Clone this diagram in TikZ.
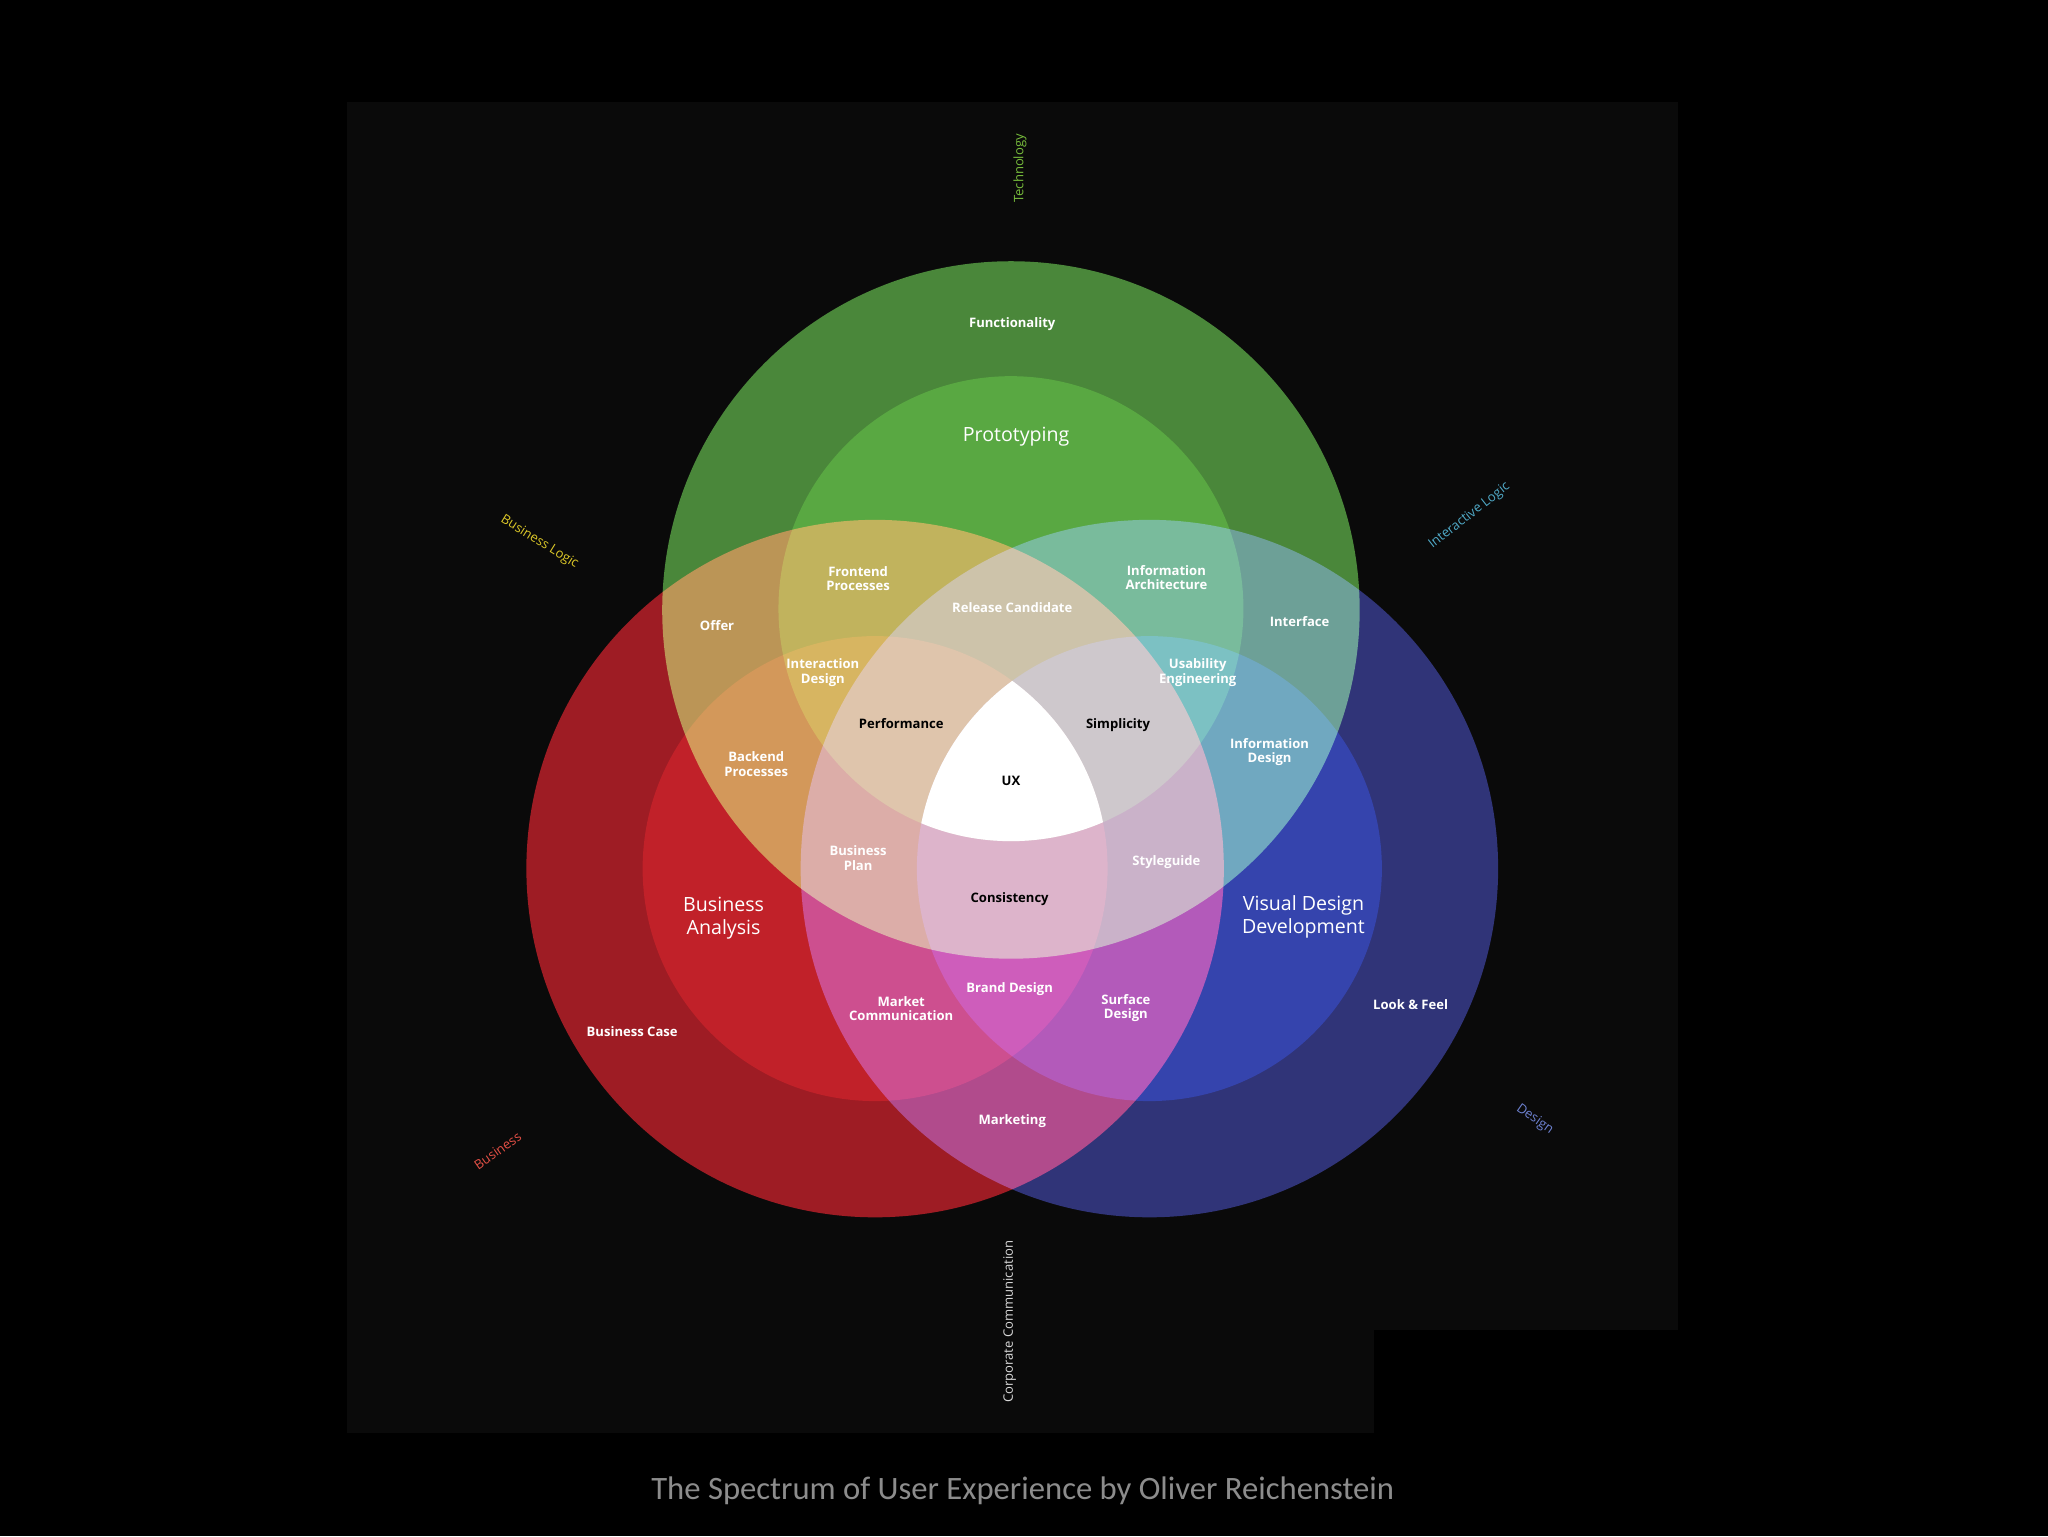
\documentclass[tikz,border=0pt]{standalone}
\usepackage{fontspec}
\setmainfont{Open Sans}
\newfontfamily\capfont{Carlito}
\begin{document}
\begin{tikzpicture}[x=1pt,y=-1pt,
 lab/.style={text=white,font=\fontsize{10}{11}\selectfont\bfseries,align=center,inner sep=0},
 dlab/.style={text=black,font=\fontsize{10}{11}\selectfont\bfseries,align=center,inner sep=0},
 big/.style={text=white,font=\fontsize{15}{18}\selectfont,align=center,inner sep=0},
 axis/.style={font=\fontsize{10}{11}\selectfont,inner sep=0}]
\useasboundingbox (0,0) rectangle (1568,1176);
\fill[black] (0,0) rectangle (1568,1176);
\fill[black!96!white] (266,78) rectangle (1285,1097);
\fill[black] (1052,1018) rectangle (1285,1097);
\begin{scope}[blend group=screen]
 \fill[fill={rgb,255:red,74;green,135;blue,58}] (774,467) circle (267);
 \fill[fill={rgb,255:red,158;green,28;blue,36}] (670,665) circle (267);
 \fill[fill={rgb,255:red,48;green,52;blue,120}] (880,665) circle (267);
 \fill[fill={rgb,255:red,20;green,70;blue,10}] (774,466) circle (178);
 \fill[fill={rgb,255:red,90;green,5;blue,5}] (670,665) circle (178);
 \fill[fill={rgb,255:red,5;green,20;blue,100}] (880,665) circle (178);
\end{scope}
\begin{scope}
 \clip (774,466) circle (178); \clip (670,665) circle (178); \fill[white] (880,665) circle (178);
\end{scope}
\node[lab] (fun) at (775,248) {Functionality};
\node[big] (pro) at (778,334) {Prototyping};
\node[lab] (fp) at (657,443) {Frontend\\Processes};
\node[lab] (ia) at (893,442) {Information\\Architecture};
\node[lab] (rc) at (775,465) {Release Candidate};
\node[lab] (off) at (549,479) {Offer};
\node[lab] (int) at (995,476) {Interface};
\node[lab] (idz) at (630,515) {Interaction\\Design};
\node[lab] (ue) at (917,515) {Usability\\Engineering};
\node[dlab] (perf) at (690,554) {Performance};
\node[dlab] (simp) at (856,555) {Simplicity};
\node[lab] (bp) at (579,585) {Backend\\Processes};
\node[lab] (infd) at (972,576) {Information\\Design};
\node[dlab] (ux) at (774,598) {UX};
\node[lab] (bpl) at (657,657) {Business\\Plan};
\node[lab] (sty) at (893,660) {Styleguide};
\node[dlab] (con) at (773,688) {Consistency};
\node[big] (ba) at (554,703) {Business\\Analysis};
\node[big] (vdd) at (998,702) {Visual Design\\Development};
\node[lab] (bd) at (773,757) {Brand Design};
\node[lab] (mc) at (690,772) {Market\\Communication};
\node[lab] (sd) at (862,772) {Surface\\Design};
\node[lab] (lf) at (1080,769) {Look \& Feel};
\node[lab] (bc) at (484,790) {Business Case};
\node[lab] (mk) at (775,858) {Marketing};
\node[axis,text={rgb,255:red,120;green,190;blue,60},rotate=90] (tech) at (781,129) {Technology};
\node[axis,text=white!85!black,rotate=90] (cc) at (773,1012) {Corporate Communication};
\node[axis,text={rgb,255:red,220;green,200;blue,40},rotate=-32] (bl) at (413,415) {Business Logic};
\node[axis,text={rgb,255:red,80;green,170;blue,200},rotate=38] (il) at (1125,395) {Interactive Logic};
\node[axis,text={rgb,255:red,230;green,80;blue,70},rotate=35] (bus) at (381,881) {Business};
\node[axis,text={rgb,255:red,110;green,130;blue,210},rotate=-35] (des) at (1175,857) {Design};
\node[text=black!45!white,font=\capfont\fontsize{25}{28}\selectfont] (cap) at (783,1141) {The Spectrum of User Experience by Oliver Reichenstein};
\end{tikzpicture}
\end{document}
